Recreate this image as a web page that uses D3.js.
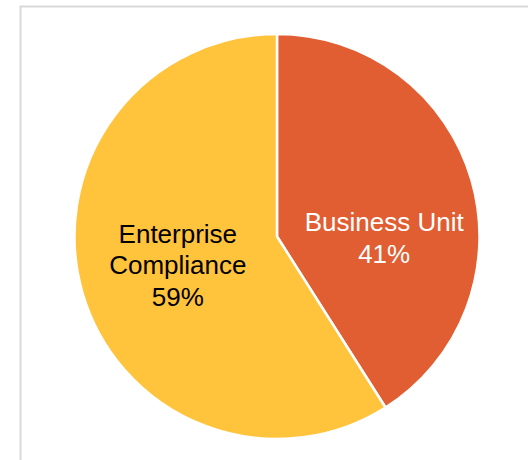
<!DOCTYPE html>
<html>
<head>
<meta charset="utf-8">
<script src="https://cdn.jsdelivr.net/npm/d3@7"></script>
<style>
  html, body { margin: 0; padding: 0; background: #fff; }
  svg { display: block; }
</style>
</head>
<body>
<svg id="chart" width="528" height="460"></svg>
<script>
// Share of responsibility, by owner
const categories = ["Business Unit", "Enterprise Compliance"];
const shares = [41, 59];
const sliceColors = ["#E15D32", "#FFC33C"];
const labelColors = ["#FFFFFF", "#000000"];
const labelLines = [["Business Unit", "41%"], ["Enterprise", "Compliance", "59%"]];

const W = 528, H = 460;
const cx = 277, cy = 236.5, R = 202.5;

const svg = d3.select("#chart");

// chart frame (top and left edges are visible in the window)
svg.append("rect")
  .attr("x", 20.5).attr("y", 6.5)
  .attr("width", W + 20).attr("height", H + 20)
  .attr("fill", "none")
  .attr("stroke", "#D9D9D9")
  .attr("stroke-width", 2);

const data = categories.map((c, i) => ({ name: c, value: shares[i], i }));

const pie = d3.pie().value(d => d.value).sort(null);
const arcs = pie(data);
const arc = d3.arc().innerRadius(0).outerRadius(R);
const labelArc = d3.arc().innerRadius(R * 0.51).outerRadius(R * 0.51);

const g = svg.append("g").attr("transform", `translate(${cx},${cy})`);

g.selectAll("path.slice")
  .data(arcs)
  .join("path")
  .attr("class", "slice")
  .attr("d", arc)
  .attr("fill", d => sliceColors[d.data.i])
  .attr("stroke", "#FFFFFF")
  .attr("stroke-width", 2.5)
  .attr("stroke-linejoin", "round");

// label placement: centroid, nudged inward to keep the narrower slice's text clear of the edge
const labelShift = [[8, 30], [0, 0]];
const fontSize = 26, lineH = 31.5;

arcs.forEach(a => {
  const [x, y] = labelArc.centroid(a);
  const lines = labelLines[a.data.i];
  const [sx, sy] = labelShift[a.data.i];
  const t = g.append("text")
    .attr("text-anchor", "middle")
    .attr("font-family", "'Liberation Sans', Arial, sans-serif")
    .attr("font-size", fontSize)
    .attr("fill", labelColors[a.data.i]);
  const firstBaseline = y + sy - (lines.length - 1) * lineH / 2 + fontSize * 0.35;
  lines.forEach((ln, k) => {
    t.append("tspan")
      .attr("x", x + sx)
      .attr("y", firstBaseline + k * lineH)
      .text(ln);
  });
});
</script>
</body>
</html>
